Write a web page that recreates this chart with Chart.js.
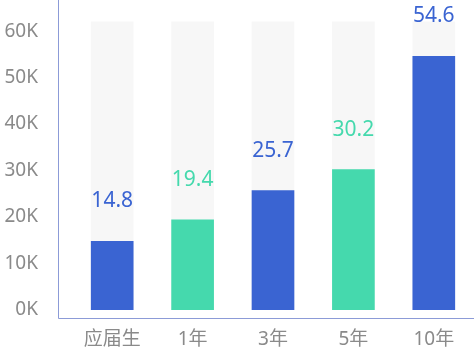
<!DOCTYPE html>
<html>
<head>
<meta charset="utf-8">
<script src="https://cdn.jsdelivr.net/npm/chart.js@4"></script>
<style>
  body { margin: 0; background: #fff; }
  #wrap { width: 474px; height: 351px; }
</style>
</head>
<body>
<div id="wrap"><canvas id="salaryChart"></canvas></div>
<script>
const categories = ['应届生', '1年', '3年', '5年', '10年'];
const salaries = [14.8, 19.4, 25.7, 30.2, 54.6];   // in K
const trackValues = [62, 62, 62, 62, 62];           // grey background bars

const BLUE = 'rgb(58,100,210)';
const GREEN = 'rgb(69,217,173)';
const barColors = [BLUE, GREEN, BLUE, GREEN, BLUE];
const FONT = '"Noto Sans", "Noto Sans CJK SC", sans-serif';

// axis lines sit a bit off the plot area, so draw them by hand
const axisLines = {
  id: 'axisLines',
  beforeDatasetsDraw(chart) {
    const { ctx, chartArea, scales } = chart;
    const x0 = chartArea.left - 14 + 0.5;
    const y0 = Math.round(scales.y.getPixelForValue(0)) + 8 + 0.5;
    ctx.save();
    ctx.strokeStyle = 'rgb(140,155,215)';
    ctx.lineWidth = 1;
    ctx.beginPath();
    ctx.moveTo(x0, 0);
    ctx.lineTo(x0, y0);
    ctx.lineTo(chart.width, y0);
    ctx.stroke();
    ctx.restore();
  }
};

const valueLabels = {
  id: 'valueLabels',
  afterDatasetsDraw(chart) {
    const { ctx } = chart;
    const meta = chart.getDatasetMeta(1);
    ctx.save();
    ctx.font = '21px ' + FONT;
    ctx.textAlign = 'center';
    ctx.textBaseline = 'middle';
    meta.data.forEach((bar, i) => {
      ctx.fillStyle = barColors[i];
      ctx.fillText(salaries[i].toFixed(1), bar.x, bar.y - 40);
    });
    ctx.restore();
  }
};

const ctx = document.getElementById('salaryChart').getContext('2d');
const myChart = new Chart(ctx, {
  type: 'bar',
  data: {
    labels: categories,
    datasets: [
      {
        data: trackValues,
        backgroundColor: '#f7f7f7',
        barThickness: 42,
        grouped: false,
        order: 2
      },
      {
        data: salaries,
        backgroundColor: barColors,
        barThickness: 42,
        grouped: false,
        order: 1
      }
    ]
  },
  options: {
    responsive: true,
    maintainAspectRatio: false,
    animation: false,
    layout: { padding: 0 },
    plugins: {
      legend: { display: false },
      tooltip: { enabled: false }
    },
    scales: {
      x: {
        offset: true,
        grid: { display: false, drawTicks: false },
        border: { display: false },
        ticks: { color: '#8a8a8a', font: { family: FONT, size: 19 }, padding: 18 },
        afterFit(s) { s.height = 41; s.paddingLeft = 0; s.paddingRight = 0; }
      },
      y: {
        min: 0,
        max: 66.7,
        grid: { display: false, drawTicks: false },
        border: { display: false },
        ticks: {
          stepSize: 10,
          includeBounds: false,
          color: '#8a8a8a',
          font: { family: FONT, size: 19 },
          padding: 34,
          callback: v => v + 'K'
        },
        afterFit(s) { s.width = 72; s.paddingTop = 0; s.paddingBottom = 0; }
      }
    }
  },
  plugins: [axisLines, valueLabels]
});
</script>
</body>
</html>
